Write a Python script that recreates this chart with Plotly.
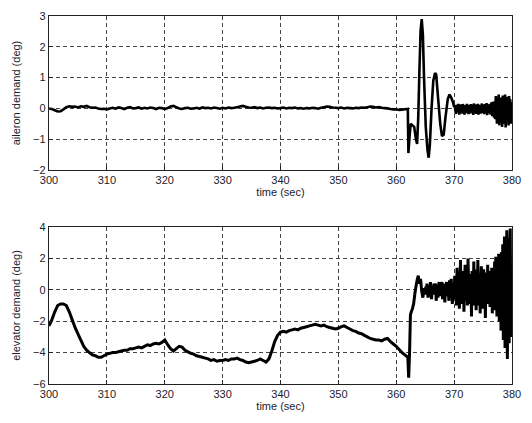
import numpy as np
import plotly.graph_objects as go
from plotly.subplots import make_subplots

# ---------------- data ----------------
# aileron demand, quiet part 300.0 .. 361.5 s every 0.5 s
aileron_quiet = [
    0.0, -0.02, -0.06, -0.1, -0.09, -0.03, 0.04, 0.07, 0.05, 0.06,
    0.03, 0.07, 0.05, 0.08, 0.04, 0.02, 0.03, 0.0, -0.02, -0.01,
    -0.03, 0.0, 0.02, -0.01, 0.03, 0.01, -0.02, 0.02, 0.04, 0.0,
    0.01, 0.03, -0.01, 0.02, 0.0, 0.03, 0.01, -0.02, 0.02, 0.01,
    -0.02, 0.01, 0.06, 0.08, 0.04, 0.0, -0.02, 0.01, 0.02, -0.01,
    0.0, 0.02, -0.01, 0.03, 0.01, 0.02, 0.0, 0.03, 0.01, -0.01,
    0.02, 0.0, 0.03, 0.01, 0.02, 0.04, 0.06, 0.08, 0.05, 0.03,
    0.02, 0.04, 0.01, 0.03, 0.0, 0.02, 0.03, 0.01, 0.02, 0.0,
    0.01, 0.03, 0.0, 0.02, 0.01, 0.03, 0.0, 0.01, -0.01, 0.01,
    0.0, 0.02, 0.01, -0.01, 0.02, 0.04, 0.06, 0.05, 0.03, 0.02,
    0.01, 0.03, 0.0, 0.02, 0.01, 0.0, 0.02, 0.01, 0.03, 0.02,
    0.04, 0.06, 0.05, 0.03, 0.04, 0.02, 0.01, 0.0, -0.02, -0.03,
    -0.03, -0.05, -0.04, -0.03,
]
# aileron manoeuvre 362 .. 370 s (irregular times)
aileron_event_t = [362.0, 362.1, 362.3, 362.5, 362.8, 363.1, 363.4, 363.6, 363.8,
                   364.0, 364.2, 364.4, 364.6, 364.8, 365.1, 365.4, 365.6, 365.8,
                   366.1, 366.4, 366.7, 366.9, 367.2, 367.6, 367.9, 368.2, 368.5,
                   368.9, 369.2, 369.5, 369.8, 370.0]
aileron_event_v = [-0.02, -1.45, -0.9, -0.5, -0.55, -0.6, -1.0, -1.15, -0.3,
                   1.2, 2.5, 2.9, 2.4, 1.0, -0.6, -1.35, -1.6, -1.2,
                   0.0, 0.9, 1.15, 1.1, 0.4, -0.5, -0.9, -0.85, -0.3,
                   0.3, 0.45, 0.35, 0.2, 0.05]
# aileron chatter 370.1 .. 380.0 s every 0.1 s
aileron_chatter = [
    0.1, -0.05, -0.18, 0.12, 0.02, -0.14, 0.15, -0.08, -0.2, 0.06,
    0.13, -0.12, 0.0, -0.17, 0.14, 0.05, -0.1, -0.2, 0.11, 0.03,
    -0.15, 0.15, -0.06, 0.08, -0.19, 0.12, -0.02, -0.16, 0.14, 0.0,
    -0.12, 0.1, -0.21, 0.16, 0.04, -0.13, 0.09, -0.18, 0.13, -0.04,
    0.15, -0.2, 0.06, -0.1, 0.12, -0.17, 0.02, 0.16, -0.14, -0.06,
    0.11, -0.19, 0.14, 0.0, -0.12, 0.17, -0.22, 0.08, 0.13, -0.16,
    -0.02, 0.15, -0.2, 0.1, 0.2, -0.25, 0.05, 0.22, -0.3, 0.18,
    -0.35, 0.4, 0.05, -0.5, 0.3, -0.2, 0.45, -0.55, 0.1, 0.35,
    -0.45, 0.2, -0.6, 0.42, -0.1, 0.3, -0.5, 0.45, -0.62, 0.15,
    0.38, -0.4, 0.25, -0.55, 0.4, -0.15, 0.3, -0.5, 0.2, -0.3,
]

# elevator demand, quiet part 300.0 .. 361.5 s every 0.5 s
elevator_quiet = [
    -2.3, -1.9, -1.4, -1.0, -0.9, -0.9, -1.0, -1.4, -1.9, -2.4,
    -2.8, -3.2, -3.6, -3.85, -4.0, -4.15, -4.2, -4.3, -4.3, -4.2,
    -4.1, -4.05, -4.0, -4.0, -3.95, -3.9, -3.85, -3.85, -3.75, -3.75,
    -3.7, -3.65, -3.7, -3.6, -3.5, -3.55, -3.45, -3.4, -3.45, -3.35,
    -3.2, -3.5, -3.75, -3.9, -3.75, -3.6, -3.65, -3.85, -3.95, -4.05,
    -4.1, -4.2, -4.25, -4.3, -4.35, -4.4, -4.5, -4.45, -4.55, -4.5,
    -4.5, -4.45, -4.5, -4.4, -4.4, -4.35, -4.45, -4.5, -4.6, -4.65,
    -4.6, -4.55, -4.5, -4.4, -4.5, -4.6, -4.4, -3.9, -3.3, -2.9,
    -2.7, -2.65, -2.7, -2.6, -2.55, -2.5, -2.55, -2.45, -2.4, -2.35,
    -2.3, -2.25, -2.2, -2.25, -2.3, -2.25, -2.35, -2.4, -2.45, -2.5,
    -2.45, -2.35, -2.3, -2.4, -2.5, -2.6, -2.65, -2.75, -2.8, -2.9,
    -3.0, -3.1, -3.15, -3.2, -3.2, -3.25, -3.15, -3.1, -3.3, -3.45,
    -3.6, -3.8, -4.0, -4.15,
]
# elevator jump 362 .. 365 s (irregular times)
elevator_event_t = [362.0, 362.15, 362.3, 362.45, 362.6, 362.8, 363.0, 363.2, 363.4,
                    363.6, 363.8, 364.0, 364.2, 364.4, 364.6, 364.8, 365.0]
elevator_event_v = [-4.3, -5.6, -4.0, -1.6, -1.4, -1.2, -0.9, -0.3, 0.2,
                    0.6, 0.9, 0.4, 0.7, -0.1, -0.5, 0.1, -0.3]
# elevator chatter 365.1 .. 380.0 s every 0.1 s
elevator_chatter = [
    0.2, -0.3, 0.4, -0.1, -0.5, 0.1, 0.3, -0.4, 0.5, -0.2,
    -0.6, 0.2, 0.0, -0.3, 0.4, -0.2, 0.1, 0.4, -0.7, -0.1,
    0.3, -0.5, 0.1, 0.5, -0.2, -0.4, 0.3, -0.1, 0.5, -0.6,
    0.2, 0.4, -0.3, -0.8, 0.3, 0.0, 0.5, -0.4, 0.3, -0.2,
    -0.7, 0.6, 0.1, -0.5, 0.7, -0.3, -0.9, 0.4, 0.2, -0.5,
    0.9, -0.6, 0.3, -1.0, 1.4, 0.4, -0.8, 0.8, -1.2, 0.2,
    1.9, -0.4, 0.7, -0.9, 0.0, 1.2, -1.4, 0.5, 1.6, -0.7,
    -0.2, 1.1, -1.0, 2.0, 0.4, -0.9, 1.0, -0.3, 0.8, -1.7,
    1.2, 0.2, -1.0, 1.8, -0.6, 0.5, 1.3, -1.3, 0.1, -0.8,
    1.9, -1.0, 0.6, 1.0, -1.5, 0.3, 1.5, -0.5, -1.2, 0.9,
    1.3, -0.5, 0.4, -1.8, 1.1, 0.0, -0.9, 1.6, -0.7, 0.8,
    1.2, -1.1, 0.2, -0.6, 1.4, -1.5, 0.5, 1.0, -1.0, 1.8,
    -1.3, 2.1, 0.4, -1.7, 1.8, -0.9, 2.3, -2.0, 0.8, 1.5,
    -2.6, 2.4, -1.2, 2.9, -3.2, 0.6, 3.4, -3.7, 2.0, -1.8,
    3.8, -4.4, 1.2, 3.3, -3.4, 2.6, 3.9, -2.8, 1.0, -3.0,
]

x_ticks = [300, 310, 320, 330, 340, 350, 360, 370, 380]
aileron_ticks = [-2, -1, 0, 1, 2, 3]
elevator_ticks = [-6, -4, -2, 0, 2, 4]

# ---------------- assemble series on their time grids ----------------
t_quiet = 300.0 + 0.5 * np.arange(len(aileron_quiet))
t_chat_a = 370.0 + 0.1 * np.arange(1, len(aileron_chatter) + 1)
t_chat_e = 365.0 + 0.1 * np.arange(1, len(elevator_chatter) + 1)

ail_t = np.concatenate([t_quiet, aileron_event_t, t_chat_a])
ail_v = np.concatenate([aileron_quiet, aileron_event_v, aileron_chatter])
ele_t = np.concatenate([300.0 + 0.5 * np.arange(len(elevator_quiet)), elevator_event_t, t_chat_e])
ele_v = np.concatenate([elevator_quiet, elevator_event_v, elevator_chatter])

fig = make_subplots(rows=2, cols=1, vertical_spacing=0.155)
fig.add_trace(go.Scatter(x=ail_t, y=ail_v, mode="lines",
                         line=dict(color="black", width=2.6, simplify=False),
                         showlegend=False), row=1, col=1)
fig.add_trace(go.Scatter(x=ele_t, y=ele_v, mode="lines",
                         line=dict(color="black", width=3.0, simplify=False),
                         showlegend=False), row=2, col=1)

font = dict(family="Liberation Sans, Arial", size=11, color="#1c1c2c")
axis_common = dict(showline=True, linecolor="#222", linewidth=1.3, mirror=True,
                   ticks="inside", ticklen=4, tickcolor="#222",
                   showgrid=True, gridcolor="#444", gridwidth=1, griddash="4px,3px",
                   zeroline=False, tickfont=font, automargin=False)

fig.update_xaxes(range=[300, 380], tickvals=x_ticks, **axis_common)
fig.update_xaxes(title=dict(text="time (sec)", font=font, standoff=1), row=1, col=1)
fig.update_xaxes(title=dict(text="time (sec)", font=font, standoff=1), row=2, col=1)
fig.update_yaxes(range=[-2, 3], tickvals=aileron_ticks,
                 title=dict(text="aileron demand (deg)", font=font, standoff=10),
                 row=1, col=1, **axis_common)
fig.update_yaxes(range=[-6, 4], tickvals=elevator_ticks,
                 title=dict(text="elevator demand (deg)", font=font, standoff=10),
                 row=2, col=1, **axis_common)

fig.update_layout(
    width=532, height=423,
    margin=dict(l=49, r=20, t=16, b=39),
    paper_bgcolor="white", plot_bgcolor="white",
    font=font,
)
fig.update_layout(yaxis=dict(domain=[0.5815, 1.0]), yaxis2=dict(domain=[0.0, 0.4266]))

fig.write_html("out.html", config={"displayModeBar": False},
               post_script="document.body.style.margin='0px';document.body.style.padding='0px';")
